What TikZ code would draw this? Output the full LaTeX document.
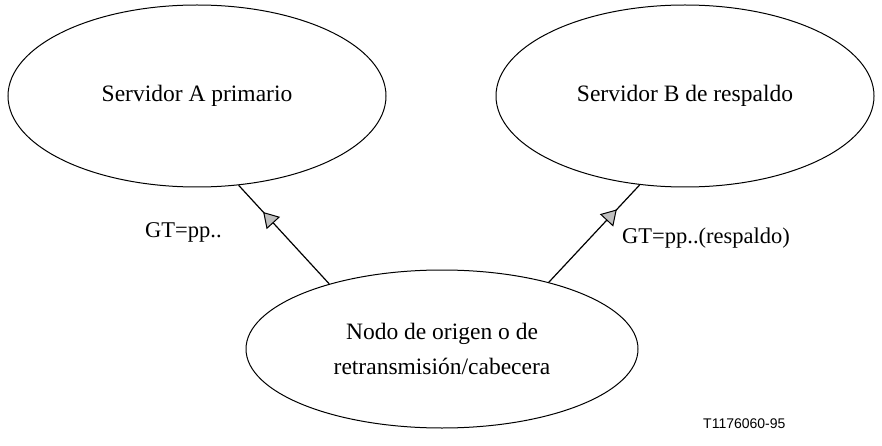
\documentclass[tikz,border=0pt]{standalone}
\usepackage{fontspec}
\setmainfont{Liberation Serif}
\setsansfont{Liberation Sans}
\usetikzlibrary{shapes.geometric,arrows.meta,decorations.markings}
\definecolor{headgray}{RGB}{192,192,192}
\tikzset{
  oval/.style={draw,line width=1pt,ellipse,inner sep=0pt,font=\fontsize{23.5}{35}\selectfont,align=center},
  link/.style={line width=1.2pt},
  midarrow/.style={postaction={decorate,decoration={markings,mark=at position #1 with {\arrow[line width=1pt]{Triangle[length=15pt,width=18pt,fill=headgray]}}}}},
  lbl/.style={font=\fontsize{22.5}{26}\selectfont,anchor=base west,inner sep=0pt},
}
\begin{document}
\begin{tikzpicture}[x=1pt,y=-1pt]
\useasboundingbox (0,0) rectangle (882,446);
\node[oval,minimum width=378pt,minimum height=182pt] (a) at (197,96) {Servidor A primario};
\node[oval,minimum width=378pt,minimum height=182pt] (b) at (685,96) {Servidor B de respaldo};
\node[oval,minimum width=392pt,minimum height=158pt] (c) at (442,349) {Nodo de origen o de\\retransmisión/cabecera};
\draw[link,midarrow=0.73] (c.150) -- (a.-65);
\draw[link,midarrow=0.75] (c.32.6) -- (b.-117);
\node[lbl] (la) at (145,237) {GT=pp..};
\node[lbl] (lb) at (622,243) {GT=pp..(respaldo)};
\node[font=\sffamily\fontsize{14}{16}\selectfont,anchor=west,inner sep=0pt] (t) at (703,424) {T1176060-95};
\end{tikzpicture}
\end{document}
